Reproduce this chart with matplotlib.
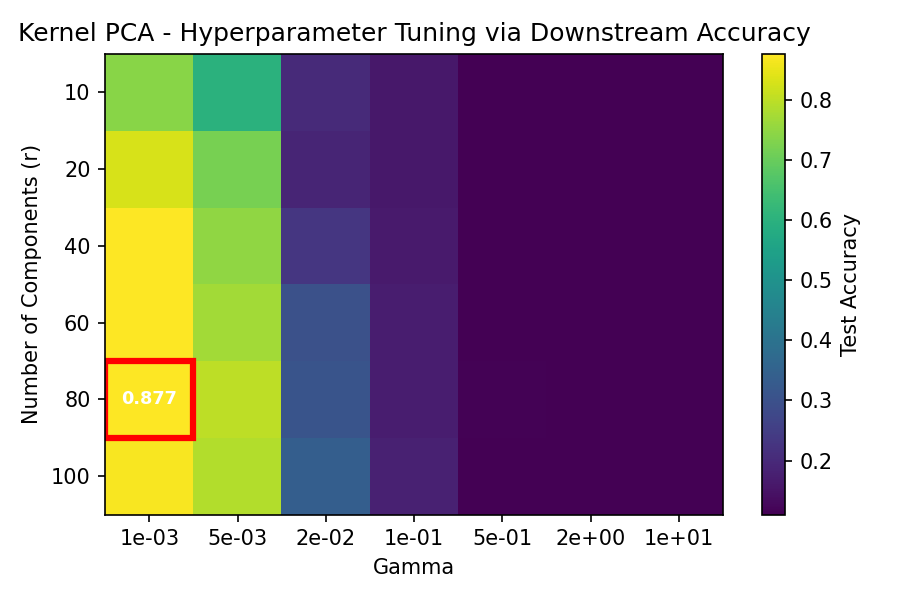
import matplotlib
matplotlib.use("Agg")
import matplotlib.pyplot as plt
import numpy as np
from matplotlib.patches import Rectangle

gammas = ["1e-03", "5e-03", "2e-02", "1e-01", "5e-01", "2e+00", "1e+01"]
components = ["10", "20", "40", "60", "80", "100"]
row_10 = [0.74, 0.60, 0.20, 0.16, 0.11, 0.11, 0.11]
row_20 = [0.83, 0.72, 0.19, 0.16, 0.11, 0.11, 0.11]
row_40 = [0.875, 0.75, 0.23, 0.165, 0.11, 0.11, 0.11]
row_60 = [0.875, 0.77, 0.30, 0.17, 0.11, 0.11, 0.11]
row_80 = [0.877, 0.80, 0.31, 0.17, 0.113, 0.11, 0.11]
row_100 = [0.87, 0.79, 0.34, 0.18, 0.11, 0.11, 0.11]
acc = np.array([row_10, row_20, row_40, row_60, row_80, row_100])

fig, ax = plt.subplots(figsize=(6, 4), dpi=150)
im = ax.imshow(acc, cmap="viridis", aspect="auto")
ax.set_xticks(range(len(gammas)), gammas)
ax.set_yticks(range(len(components)), components)
ax.set_xlabel("Gamma")
ax.set_ylabel("Number of Components (r)")
ax.set_title("Kernel PCA - Hyperparameter Tuning via Downstream Accuracy")
cb = fig.colorbar(im, ax=ax)
cb.set_label("Test Accuracy")
bi, bj = np.unravel_index(np.argmax(acc), acc.shape)
ax.add_patch(Rectangle((bj - 0.5, bi - 0.5), 1, 1, fill=False, edgecolor="red", lw=3))
ax.text(bj, bi, f"{acc[bi, bj]:.3f}", ha="center", va="center", color="white", fontweight="bold", fontsize=8.5)
fig.tight_layout()
fig.savefig("out.png")
